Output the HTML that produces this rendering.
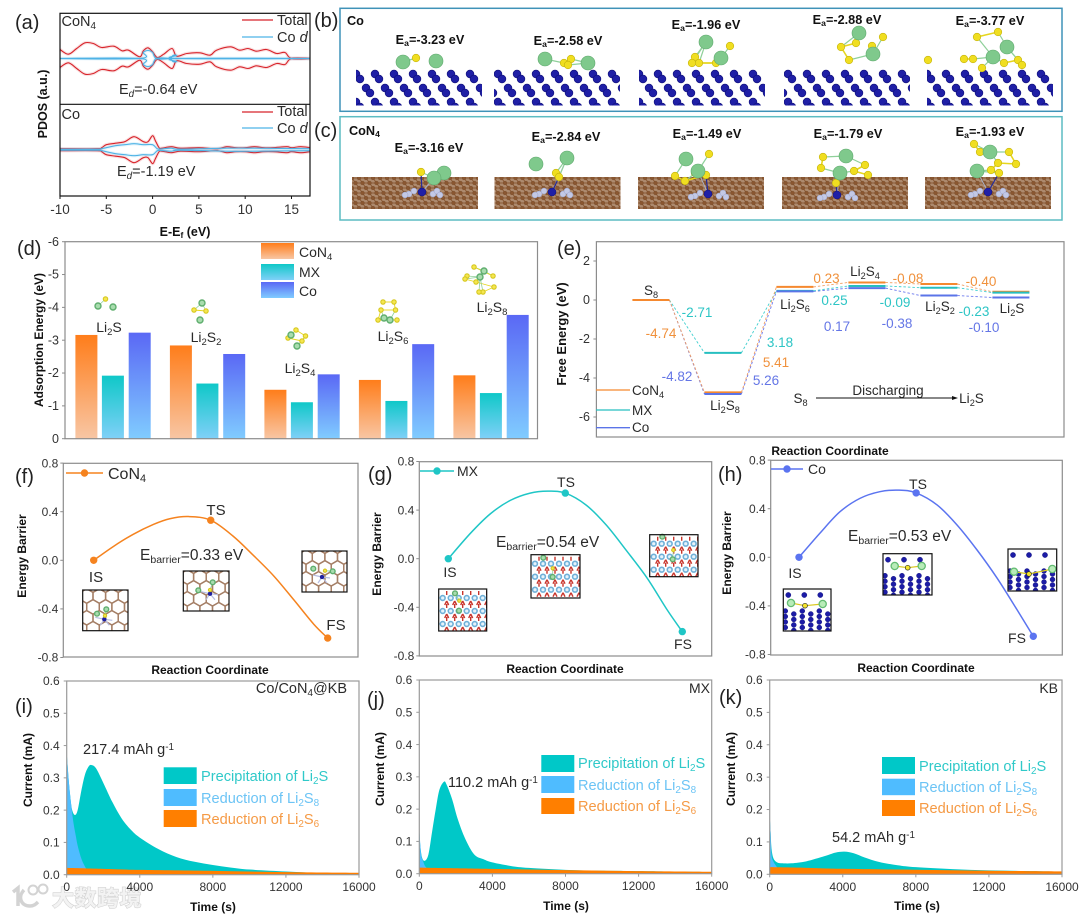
<!DOCTYPE html>
<html lang="en">
<head>
<meta charset="utf-8">
<title>Co/CoN4 polysulfide conversion figure</title>
<style>
html,body{margin:0;padding:0;background:#fff;}
svg{display:block;font-family:"Liberation Sans","Noto Sans CJK SC",sans-serif;}
text{fill:#2a2a2a;}
.pl{font-size:20px;fill:#222;}
.t{font-size:13.5px;}
.a14{font-size:14.5px;}
.tick{font-size:12px;fill:#333;}
.b{font-weight:bold;font-size:12px;fill:#111;}
.ea{font-weight:bold;font-size:12.7px;fill:#111;}
.l14{font-size:14px;}
.eb{font-size:15.5px;}
.cap{font-size:14.5px;}
.s{font-size:68%;}
.org{fill:#f0913c;}.tea{fill:#2cc5c5;}.blu{fill:#6476e6;}
.lo{fill:#f59a45;font-size:14.6px;}.lb{fill:#6cc4f5;font-size:14.6px;}.lt{fill:#2fc9c9;font-size:14.6px;}
.m{text-anchor:middle;}
.e{text-anchor:end;}
</style>
</head>
<body>
<svg id="figure" width="1080" height="918" viewBox="0 0 1080 918" xmlns="http://www.w3.org/2000/svg">
<defs>
<linearGradient id="grad-org" x1="0" y1="0" x2="0" y2="1"><stop offset="0" stop-color="#ff7d1a"/><stop offset="1" stop-color="#f8c6a4"/></linearGradient>
<linearGradient id="grad-tea" x1="0" y1="0" x2="0" y2="1"><stop offset="0" stop-color="#0fc8c8"/><stop offset="1" stop-color="#80d0f8"/></linearGradient>
<linearGradient id="grad-blu" x1="0" y1="0" x2="0" y2="1"><stop offset="0" stop-color="#5a68f5"/><stop offset="1" stop-color="#80ccff"/></linearGradient>
</defs>

<!-- panel a -->
<g id="panel-a">
<g id="a-marks"></g>
<text class="pl" x="15" y="29">(a)</text>
<text class="a14" x="61.5" y="26">CoN<tspan class="s" dy="3">4</tspan></text>
<text class="a14" x="61.5" y="119">Co</text>
<text class="a14" x="277" y="25">Total</text>
<text class="a14" x="277" y="42">Co <tspan font-style="italic">d</tspan></text>
<text class="a14" x="277" y="116">Total</text>
<text class="a14" x="277" y="133">Co <tspan font-style="italic">d</tspan></text>
<text class="a14" x="119" y="94">E<tspan class="s" dy="3" font-style="italic">d</tspan><tspan dy="-3">=-0.64 eV</tspan></text>
<text class="a14" x="117" y="176">E<tspan class="s" dy="3" font-style="italic">d</tspan><tspan dy="-3">=-1.19 eV</tspan></text>
<text class="b m" style="font-size:12.5px" transform="translate(47,104) rotate(-90)">PDOS (a.u.)</text>
<text class="b m" style="font-size:12.5px" x="185" y="236">E-E<tspan class="s" dy="2">f</tspan><tspan dy="-2"> (eV)</tspan></text>
</g>

<!-- panels b, c -->
<g id="panel-b">
<rect x="340" y="8.3" width="722" height="103" fill="none" stroke="#3f92b8" stroke-width="1.5"/>
<g id="b-art"></g>
<text class="pl" x="314" y="27">(b)</text>
<text class="ea" x="347" y="25">Co</text>
<text class="ea m" x="430" y="44">E<tspan class="s" dy="2">a</tspan><tspan dy="-2">=-3.23 eV</tspan></text>
<text class="ea m" x="568" y="45">E<tspan class="s" dy="2">a</tspan><tspan dy="-2">=-2.58 eV</tspan></text>
<text class="ea m" x="706" y="29">E<tspan class="s" dy="2">a</tspan><tspan dy="-2">=-1.96 eV</tspan></text>
<text class="ea m" x="847" y="24">E<tspan class="s" dy="2">a</tspan><tspan dy="-2">=-2.88 eV</tspan></text>
<text class="ea m" x="990" y="25">E<tspan class="s" dy="2">a</tspan><tspan dy="-2">=-3.77 eV</tspan></text>
</g>
<g id="panel-c">
<rect x="340" y="116.7" width="722" height="103.3" fill="none" stroke="#5cbcc2" stroke-width="1.5"/>
<g id="c-art"></g>
<text class="pl" x="314" y="137">(c)</text>
<text class="ea" x="349" y="135">CoN<tspan class="s" dy="2">4</tspan></text>
<text class="ea m" x="429" y="152">E<tspan class="s" dy="2">a</tspan><tspan dy="-2">=-3.16 eV</tspan></text>
<text class="ea m" x="566" y="141">E<tspan class="s" dy="2">a</tspan><tspan dy="-2">=-2.84 eV</tspan></text>
<text class="ea m" x="707" y="138">E<tspan class="s" dy="2">a</tspan><tspan dy="-2">=-1.49 eV</tspan></text>
<text class="ea m" x="848" y="138">E<tspan class="s" dy="2">a</tspan><tspan dy="-2">=-1.79 eV</tspan></text>
<text class="ea m" x="990" y="136">E<tspan class="s" dy="2">a</tspan><tspan dy="-2">=-1.93 eV</tspan></text>
</g>

<!-- panel d -->
<g id="panel-d">
<g id="d-marks"></g>
<text class="pl" x="17" y="255">(d)</text>
<text class="b m" transform="translate(43,340) rotate(-90)">Adsorption Energy (eV)</text>
<rect x="261" y="243" width="33" height="16" fill="url(#grad-org)"/>
<rect x="261" y="264" width="33" height="16" fill="url(#grad-tea)"/>
<rect x="261" y="282" width="33" height="16" fill="url(#grad-blu)"/>
<text class="l14" x="299" y="257">CoN<tspan class="s" dy="3">4</tspan></text>
<text class="l14" x="299" y="277">MX</text>
<text class="l14" x="299" y="296">Co</text>
<text class="l14 m" x="109" y="332">Li<tspan class="s" dy="3">2</tspan><tspan dy="-3">S</tspan></text>
<text class="l14 m" x="206" y="342">Li<tspan class="s" dy="3">2</tspan><tspan dy="-3">S</tspan><tspan class="s" dy="3">2</tspan></text>
<text class="l14 m" x="300" y="373">Li<tspan class="s" dy="3">2</tspan><tspan dy="-3">S</tspan><tspan class="s" dy="3">4</tspan></text>
<text class="l14 m" x="393" y="341">Li<tspan class="s" dy="3">2</tspan><tspan dy="-3">S</tspan><tspan class="s" dy="3">6</tspan></text>
<text class="l14 m" x="492" y="312">Li<tspan class="s" dy="3">2</tspan><tspan dy="-3">S</tspan><tspan class="s" dy="3">8</tspan></text>
</g>

<!-- panel e -->
<g id="panel-e">
<g id="e-marks"></g>
<text class="pl" x="557" y="255">(e)</text>
<text class="b m" style="font-size:13px" transform="translate(566,334) rotate(-90)">Free Energy (eV)</text>
<text class="b m" x="830" y="455">Reaction Coordinate</text>
<line x1="596" y1="390" x2="630" y2="390" stroke="#f5892f" stroke-width="1.3"/>
<line x1="596" y1="410" x2="630" y2="410" stroke="#27bfc0" stroke-width="1.3"/>
<line x1="596" y1="427.7" x2="630" y2="427.7" stroke="#5b74e8" stroke-width="1.3"/>
<text class="t" x="632" y="395">CoN<tspan class="s" dy="3">4</tspan></text>
<text class="t" x="632" y="415">MX</text>
<text class="t" x="632" y="432">Co</text>
<text class="t m" x="651" y="295">S<tspan class="s" dy="3">8</tspan></text>
<text class="t m" x="725" y="410">Li<tspan class="s" dy="3">2</tspan><tspan dy="-3">S</tspan><tspan class="s" dy="3">8</tspan></text>
<text class="t m" x="795" y="309">Li<tspan class="s" dy="3">2</tspan><tspan dy="-3">S</tspan><tspan class="s" dy="3">6</tspan></text>
<text class="t m" x="865" y="276">Li<tspan class="s" dy="3">2</tspan><tspan dy="-3">S</tspan><tspan class="s" dy="3">4</tspan></text>
<text class="t m" x="940" y="311">Li<tspan class="s" dy="3">2</tspan><tspan dy="-3">S</tspan><tspan class="s" dy="3">2</tspan></text>
<text class="t m" x="1012" y="313">Li<tspan class="s" dy="3">2</tspan><tspan dy="-3">S</tspan></text>
<text class="t m tea" x="697" y="317">-2.71</text>
<text class="t m org" x="661" y="338">-4.74</text>
<text class="t m blu" x="677" y="381">-4.82</text>
<text class="t m tea" x="780" y="347">3.18</text>
<text class="t m org" x="776" y="367">5.41</text>
<text class="t m blu" x="766" y="385">5.26</text>
<text class="t m org" x="826.5" y="283">0.23</text>
<text class="t m tea" x="834.5" y="305">0.25</text>
<text class="t m blu" x="837" y="331">0.17</text>
<text class="t m org" x="908" y="283">-0.08</text>
<text class="t m tea" x="895" y="307">-0.09</text>
<text class="t m blu" x="897" y="328">-0.38</text>
<text class="t m org" x="981" y="286">-0.40</text>
<text class="t m tea" x="974" y="316">-0.23</text>
<text class="t m blu" x="984" y="332">-0.10</text>
<text class="t m" x="800.5" y="403">S<tspan class="s" dy="3">8</tspan></text>
<text class="t m" x="971.5" y="403">Li<tspan class="s" dy="3">2</tspan><tspan dy="-3">S</tspan></text>
<text class="t m" x="888" y="395">Discharging</text>
<line x1="816" y1="398" x2="953" y2="398" stroke="#111" stroke-width="1"/>
<polygon points="958,398 952,396 952,400" fill="#111"/>
</g>

<!-- panel f -->
<g id="panel-f">
<g id="f-marks"></g>
<text class="pl" x="15" y="483">(f)</text>
<text x="108" y="479" font-size="16">CoN<tspan class="s" dy="3">4</tspan></text>
<text font-size="15" class="m" x="96" y="582">IS</text>
<text font-size="15" class="m" x="216" y="515">TS</text>
<text font-size="15" class="m" x="336" y="630">FS</text>
<text class="eb" x="140" y="560">E<tspan class="s" dy="3">barrier</tspan><tspan dy="-3">=0.33 eV</tspan></text>
<text class="b m" transform="translate(26,556) rotate(-90)">Energy Barrier</text>
<text class="b m" x="210" y="674">Reaction Coordinate</text>
</g>

<!-- panel g -->
<g id="panel-g">
<g id="g-marks"></g>
<text class="pl" x="368" y="481">(g)</text>
<text font-size="14" x="457" y="476">MX</text>
<text font-size="14" class="m" x="450" y="577">IS</text>
<text font-size="14" class="m" x="566" y="487">TS</text>
<text font-size="14" class="m" x="683" y="649">FS</text>
<text class="eb" x="496" y="547">E<tspan class="s" dy="3">barrier</tspan><tspan dy="-3">=0.54 eV</tspan></text>
<text class="b m" transform="translate(381,554) rotate(-90)">Energy Barrier</text>
<text class="b m" x="565" y="673">Reaction Coordinate</text>
</g>

<!-- panel h -->
<g id="panel-h">
<g id="h-marks"></g>
<text class="pl" x="718" y="481">(h)</text>
<text font-size="14" x="808" y="474">Co</text>
<text font-size="14" class="m" x="795" y="578">IS</text>
<text font-size="14" class="m" x="918" y="489">TS</text>
<text font-size="14" class="m" x="1017" y="643">FS</text>
<text class="eb" x="848" y="541">E<tspan class="s" dy="3">barrier</tspan><tspan dy="-3">=0.53 eV</tspan></text>
<text class="b m" transform="translate(731,553) rotate(-90)">Energy Barrier</text>
<text class="b m" x="916" y="672">Reaction Coordinate</text>
</g>

<!-- panel i -->
<g id="panel-i">
<g id="i-marks"></g>
<text class="pl" x="15" y="713">(i)</text>
<text class="cap e" x="347" y="693">Co/CoN<tspan class="s" dy="3">4</tspan><tspan dy="-3">@KB</tspan></text>
<text class="cap" x="83" y="754">217.4 mAh g<tspan class="s" dy="-4">-1</tspan></text>
<rect x="163.7" y="767.3" width="33" height="16.7" fill="#00c8c8"/>
<rect x="163.7" y="789" width="33" height="17" fill="#4fbcff"/>
<rect x="163.7" y="810" width="33" height="17" fill="#ff7f00"/>
<text class="lt" x="201" y="781">Precipitation of Li<tspan class="s" dy="3">2</tspan><tspan dy="-3">S</tspan></text>
<text class="lb" x="201" y="803">Reduction of Li<tspan class="s" dy="3">2</tspan><tspan dy="-3">S</tspan><tspan class="s" dy="3">8</tspan></text>
<text class="lo" x="201" y="824">Reduction of Li<tspan class="s" dy="3">2</tspan><tspan dy="-3">S</tspan><tspan class="s" dy="3">6</tspan></text>
<text class="b m" transform="translate(32,770) rotate(-90)">Current (mA)</text>
<text class="b m" x="213" y="911">Time (s)</text>
</g>

<!-- panel j -->
<g id="panel-j">
<g id="j-marks"></g>
<text class="pl" x="367" y="706">(j)</text>
<text class="t e" style="font-size:14px" x="710" y="693">MX</text>
<text class="cap" x="448" y="787">110.2 mAh g<tspan class="s" dy="-4">-1</tspan></text>
<rect x="541.3" y="755" width="33" height="17" fill="#00c8c8"/>
<rect x="541.3" y="776" width="33" height="17" fill="#4fbcff"/>
<rect x="541.3" y="798" width="33" height="16" fill="#ff7f00"/>
<text class="lt" x="578" y="768">Precipitation of Li<tspan class="s" dy="3">2</tspan><tspan dy="-3">S</tspan></text>
<text class="lb" x="578" y="790">Reduction of Li<tspan class="s" dy="3">2</tspan><tspan dy="-3">S</tspan><tspan class="s" dy="3">8</tspan></text>
<text class="lo" x="578" y="811">Reduction of Li<tspan class="s" dy="3">2</tspan><tspan dy="-3">S</tspan><tspan class="s" dy="3">6</tspan></text>
<text class="b m" transform="translate(384,769) rotate(-90)">Current (mA)</text>
<text class="b m" x="566" y="910">Time (s)</text>
</g>

<!-- panel k -->
<g id="panel-k">
<g id="k-marks"></g>
<text class="pl" x="719" y="704">(k)</text>
<text class="t e" style="font-size:14px" x="1058" y="693">KB</text>
<text class="cap" x="832" y="842">54.2 mAh g<tspan class="s" dy="-4">-1</tspan></text>
<rect x="882" y="757" width="33" height="17" fill="#00c8c8"/>
<rect x="882" y="778.7" width="33" height="16.5" fill="#4fbcff"/>
<rect x="882" y="800" width="33" height="16" fill="#ff7f00"/>
<text class="lt" x="919" y="771">Precipitation of Li<tspan class="s" dy="3">2</tspan><tspan dy="-3">S</tspan></text>
<text class="lb" x="919" y="792">Reduction of Li<tspan class="s" dy="3">2</tspan><tspan dy="-3">S</tspan><tspan class="s" dy="3">8</tspan></text>
<text class="lo" x="919" y="813">Reduction of Li<tspan class="s" dy="3">2</tspan><tspan dy="-3">S</tspan><tspan class="s" dy="3">6</tspan></text>
<text class="b m" transform="translate(735,769) rotate(-90)">Current (mA)</text>
<text class="b m" x="917" y="910">Time (s)</text>
</g>

<!-- watermark -->
<g id="watermark" opacity="0.9">
<path d="M13 892 L18 888 L18 906 M24 890 C18 896 20 906 30 906 C34 906 36 904 38 902" fill="none" stroke="#cfcfcf" stroke-width="3.5"/>
<circle cx="33" cy="890" r="4.5" fill="#fff" stroke="#cfcfcf" stroke-width="2"/>
<circle cx="43" cy="889" r="4.5" fill="#fff" stroke="#cfcfcf" stroke-width="2"/>
<text x="52" y="906" font-size="22" font-weight="bold" letter-spacing="0.5" stroke="#cfcfcf" stroke-width="1.2" style="fill:#f2f2f2;paint-order:stroke;font-family:'Liberation Sans','Noto Sans CJK SC',sans-serif">大数跨境</text>
</g>

<!-- x tick labels and y tick labels are appended here -->
<g id="tick-layer"></g>
</svg>

<script>
/* ---------- panel a data ---------- */
const topTotalEnergy = [-10,-9.1,-8.2,-7.3,-6.4,-5.5,-4.2,-3.3,-2.6,-1.4,-1,-0.5,0,0.5,1.2,2.1,2.6,3.7,5.1,6.2,6.9,8.4,9.4,10.3,11.2,12.3,13.4,14.3,15,17];
const topTotalDos = [9,4.3,10,15.7,15,11,12.3,7.7,8.3,1.7,7.7,10.7,6.7,1,4.3,10,2.3,5,5.7,3.3,8.3,11.7,8.3,10,7.3,9,5,6,0,0];
const topCoDEnergy = [-10,-1.4,-1,-0.5,0,0.4,1.8,2.2,2.6,2.9,17];
const topCoDDos = [0,0,6,8,6,0,0,3,3,0,0];
const botTotalEnergy = [-10,-6,-5.5,-5,-4,-3,-2,-1,-0.5,0,0.3,0.7,1,2,3,5,7,8,9,10,11,12,13,14.5,15,16,17];
const botTotalDos = [1,1,2,5,6.5,8,13,8,8,14,9,2,1.5,3,1.5,2,1,3,2,2,3,2,2,3,2,3,2];
const botCoDEnergy = [-10,-6,-5.5,-4,-3,-2,-1,0,0.5,1,2,3,8,11,17];
const botCoDDos = [0.5,0.5,1,4,5,6,5,5,1,0.8,1.5,0.5,1.5,1.5,1];
const pdosTicks = [-10,-5,0,5,10,15];

/* ---------- panel d data ---------- */
const species = ['Li2S','Li2S2','Li2S4','Li2S6','Li2S8'];
const adsorptionCoN4 = [3.16,2.84,1.49,1.79,1.93];
const adsorptionMX = [1.92,1.68,1.11,1.15,1.39];
const adsorptionCo = [3.23,2.58,1.96,2.88,3.77];
const adsorptionTicks = [0,-1,-2,-3,-4,-5,-6];

/* ---------- panel e data ---------- */
const freeEnergySteps = ['S8','Li2S8','Li2S6','Li2S4','Li2S2','Li2S'];
const freeCoN4 = [0,-4.74,0.67,0.90,0.82,0.42];
const freeMX = [0,-2.71,0.47,0.72,0.63,0.38];
const freeCo = [0,-4.82,0.44,0.61,0.23,0.13];
const freeTicks = [2,0,-2,-4,-6];

/* ---------- panels f, g, h data ---------- */
const barrierStates = [0,1,2];
const barrierTicks = [0.8,0.4,0,-0.4,-0.8];
const stateEnergyCoN4 = [0,0.33,-0.64];
const stateEnergyMX = [0,0.54,-0.6];
const stateEnergyCo = [0,0.53,-0.65];
const curveCoordCoN4 = [0,0.17,0.34,0.51,0.65,0.81,1,1.19,1.36,1.54,1.71,1.88,2];
const curveEnergyCoN4 = [0,0.115,0.215,0.295,0.342,0.36,0.33,0.2,0.045,-0.13,-0.325,-0.525,-0.64];
const curveCoordMX = [0,0.19,0.36,0.53,0.70,0.85,1,1.18,1.35,1.52,1.70,1.87,2];
const curveEnergyMX = [0,0.21,0.37,0.48,0.54,0.556,0.54,0.44,0.277,0.07,-0.16,-0.42,-0.6];
const curveCoordCo = [0,0.18,0.35,0.52,0.69,0.85,1,1.18,1.35,1.52,1.69,1.86,2];
const curveEnergyCo = [0,0.2,0.375,0.485,0.54,0.553,0.53,0.43,0.265,0.06,-0.17,-0.43,-0.65];

/* ---------- panels i, j, k data ---------- */
const currentYTicks = [0,0.1,0.2,0.3,0.4,0.5,0.6];
const currentXTicks = [0,4000,8000,12000,16000];
const iTime = [0,100,200,300,450,600,800,1000,1200,1350,1600,2000,2500,3000,3500,4000,5000,6000,7000,8000,9000,10000,12000,14000,16000];
const iPrecip = [0.38,0.30,0.24,0.2,0.185,0.2,0.26,0.31,0.335,0.34,0.33,0.285,0.225,0.175,0.14,0.115,0.08,0.055,0.04,0.03,0.022,0.016,0.01,0.005,0.003];
const iLi2S8Time = [0,100,200,300,400,500,600,800,1000,1150];
const iLi2S8 = [0.38,0.3,0.24,0.19,0.15,0.12,0.09,0.05,0.025,0.012];
const iLi2S6Time = [0,2000,4000,8000,12000,16000];
const iLi2S6 = [0.021,0.018,0.015,0.012,0.008,0.006];

const jTime = [0,50,150,300,500,700,900,1100,1350,1500,1800,2100,2500,3000,3500,4000,5000,6000,8000,10000,12000,16000];
const jPrecip = [0.14,0.09,0.05,0.04,0.06,0.13,0.2,0.26,0.285,0.275,0.23,0.17,0.11,0.06,0.045,0.035,0.024,0.018,0.012,0.009,0.008,0.005];
const jLi2S8Time = [0,100,200,300,400];
const jLi2S8 = [0.14,0.06,0.04,0.025,0.018];
const jLi2S6Time = [0,2000,4000,8000,12000,16000];
const jLi2S6 = [0.019,0.017,0.015,0.011,0.008,0.006];

const kTime = [0,50,100,200,400,700,1200,2000,3000,3600,4100,4600,5200,6000,7000,8000,10000,12000,14000,16000];
const kPrecip = [0.185,0.13,0.08,0.05,0.037,0.034,0.034,0.04,0.056,0.067,0.07,0.065,0.052,0.038,0.028,0.022,0.016,0.012,0.01,0.008];
const kLi2S8Time = [0,50,100,200,300,400];
const kLi2S8 = [0.185,0.13,0.06,0.04,0.03,0.022];
const kLi2S6Time = [0,2000,4000,8000,12000,16000];
const kLi2S6 = [0.022,0.02,0.017,0.014,0.011,0.009];

/* ---------- illustration atoms (not chart data) ---------- */
const coModels = [
 {g:[[403,62],[436,61]],y:[[416,58]]},
 {g:[[545,59],[588,63]],y:[[564,63],[571,59],[568,65]]},
 {g:[[706,42],[721,58]],y:[[730,46],[695,57],[699,63],[716,63],[692,63]]},
 {g:[[859,33],[873,54]],y:[[883,37],[856,43],[841,47],[849,60],[872,46]]},
 {g:[[1007,47],[993,57]],y:[[977,37],[998,32],[964,59],[973,59],[1004,63],[1018,60],[1022,65],[982,68],[928,60]]}
];
const coSlabX = [356,494,639,784,927];
const con4Models = [
 {g:[[444,173],[434,178]],y:[[421,172]],co:[422,192]},
 {g:[[536,164],[567,158]],y:[[556,173],[559,177]],co:[552,192]},
 {g:[[686,159],[698,171]],y:[[709,154],[675,176],[685,181],[706,175],[695,173]],co:[708,194]},
 {g:[[846,156],[840,173]],y:[[823,157],[821,168],[865,165],[854,171],[868,175],[836,183]],co:[837,195]},
 {g:[[990,152],[977,171]],y:[[974,144],[980,152],[1009,152],[1016,164],[998,163],[991,170],[999,173]],co:[988,192]}
];
const con4SlabX = [352,494.5,638,782,925];
const isolatedModels = [
 {g:[[98,306],[113,307]],y:[[105.5,299]]},
 {g:[[202,303],[200,320]],y:[[194,310],[206,311]]},
 {g:[[291,335],[297,346]],y:[[296,330],[305.5,336],[302,341],[288,338]]},
 {g:[[384,318],[390,320]],y:[[383,302],[394,302],[395.5,310],[381,310],[378,320],[397,320]]},
 {g:[[484,271],[480,277]],y:[[474,267],[493,276],[467,276],[465,279],[476,282],[494,287],[483,292],[479,292]]}
];

/* ---------- helpers ---------- */
const NS = 'http://www.w3.org/2000/svg';
function add(parent, tag, attrs) {
  const n = document.createElementNS(NS, tag);
  for (const k in attrs) n.setAttribute(k, attrs[k]);
  parent.appendChild(n);
  return n;
}
function linear(d0, d1, r0, r1) { return v => r0 + (v - d0) * (r1 - r0) / (d1 - d0); }
function pointsOf(xs, ys, sx, sy) { return xs.map((x, i) => [sx(x), sy(ys[i])]); }
function polyPath(pts) { return pts.map((p, i) => (i ? 'L' : 'M') + p[0].toFixed(2) + ' ' + p[1].toFixed(2)).join(' '); }
function smoothPath(pts) {
  let d = 'M' + pts[0][0].toFixed(2) + ' ' + pts[0][1].toFixed(2);
  for (let i = 0; i < pts.length - 1; i++) {
    const p0 = pts[i - 1] || pts[i], p1 = pts[i], p2 = pts[i + 1], p3 = pts[i + 2] || p2;
    d += ' C' + (p1[0] + (p2[0] - p0[0]) / 6).toFixed(2) + ' ' + (p1[1] + (p2[1] - p0[1]) / 6).toFixed(2) + ' ' +
      (p2[0] - (p3[0] - p1[0]) / 6).toFixed(2) + ' ' + (p2[1] - (p3[1] - p1[1]) / 6).toFixed(2) + ' ' +
      p2[0].toFixed(2) + ' ' + p2[1].toFixed(2);
  }
  return d;
}
const ticksLayer = document.getElementById('tick-layer');
function frame(parent, x, y, w, h, color) {
  const r = add(parent, 'rect', {x: x, y: y, width: w, height: h, fill: 'none', stroke: color, 'stroke-width': 1.2});
  
  
  return r;
}
function yTicks(values, scale, xRight, fmt, size, frameX, color) {
  values.forEach(v => {
    const t = add(ticksLayer, 'text', {x: xRight, y: scale(v) + 4.2, class: 'tick e'});
    t.style.fontSize = size + 'px';
    t.textContent = fmt(v);
    
    
    const m = add(ticksLayer, 'line', {x1: frameX - 3, x2: frameX, y1: scale(v), y2: scale(v), stroke: color, 'stroke-width': 1});
    
    
  });
}
function xTicks(values, scale, yBase, size, frameBottom, color) {
  values.forEach(v => {
    const t = add(ticksLayer, 'text', {x: scale(v), y: yBase, class: 'tick m'});
    t.style.fontSize = size + 'px';
    t.textContent = String(v);
    
    
    const m = add(ticksLayer, 'line', {x1: scale(v), x2: scale(v), y1: frameBottom, y2: frameBottom + 3, stroke: color, 'stroke-width': 1});
    
    
  });
}
function atom(parent, x, y, r, fill, stroke, sw) {
  const c = add(parent, 'circle', {cx: x, cy: y, r: r, fill: fill, stroke: stroke, 'stroke-width': sw});
  
  
  return c;
}
function bond(parent, a, b, color, w) {
  const l = add(parent, 'line', {x1: a[0], y1: a[1], x2: b[0], y2: b[1], stroke: color, 'stroke-width': w});
  
  
  return l;
}
function dist(a, b) { return Math.hypot(a[0] - b[0], a[1] - b[1]); }
function molecule(parent, model, rg, ry, ring) {
  const nearest = p => model.g.reduce((m, g) => dist(g, p) < dist(m, p) ? g : m, model.g[0]);
  model.y.forEach((p, i) => {
    const n = nearest(p);
    if (dist(n, p) < (ring ? 16 : 28)) bond(parent, p, n, '#8fd09a', ring ? 0.8 : 1.2);
    if (i) {
      const q = model.y[i - 1];
      if (dist(q, p) < (ring ? 22 : 26)) bond(parent, p, q, '#e6d61e', ring ? 0.9 : 1.6);
    }
  });
  model.y.forEach(p => atom(parent, p[0], p[1], ry, ring ? '#f5e650' : '#f0de20', ring ? '#d6c820' : '#c4b30c', ring ? 1.1 : 0.6));
  model.g.forEach(p => atom(parent, p[0], p[1], rg, ring ? '#a8dcae' : '#7fc98c', ring ? '#5fae6e' : '#5ea86c', ring ? 1.4 : 0.6));
}
let clipCounter = 0;
function clipped(parent, x, y, w, h, name) {
  const id = 'clip-' + (clipCounter++);
  const cp = add(parent, 'clipPath', {id: id});
  add(cp, 'rect', {x: x, y: y, width: w, height: h});
  const g = add(parent, 'g', {'clip-path': 'url(#' + id + ')'});
  
  
  return g;
}

/* ---------- panel a ---------- */
(function () {
  const g = document.getElementById('a-marks');
  const sx = linear(-10, 17, 60, 310);
  const plot = (E, D, cy, color, w) => {
    [1, -1].forEach(sign => {
      const pts = E.map((e, i) => [sx(e), cy - sign * D[i]]);
      const halo = add(g, 'path', {d: smoothPath(pts), fill: 'none', stroke: color, 'stroke-width': w + 2.2, opacity: 0.14});
      
      
      const p = add(g, 'path', {d: smoothPath(pts), fill: 'none', stroke: color, 'stroke-width': w});
      
      
    });
  };
  plot(topTotalEnergy, topTotalDos, 58.5, '#d8232a', 1.1);
  plot(topCoDEnergy, topCoDDos, 58.5, '#4eb3e6', 1.1);
  plot(botTotalEnergy, botTotalDos, 149.7, '#d8232a', 1.1);
  plot(botCoDEnergy, botCoDDos, 149.7, '#4eb3e6', 1.1);
  frame(g, 60, 13.3, 250, 182.7, '#111');
  const div = add(g, 'line', {x1: 60, x2: 310, y1: 104.3, y2: 104.3, stroke: '#111', 'stroke-width': 1.2});
  
  
  [[20, '#d8232a'], [37, '#4eb3e6'], [112, '#d8232a'], [128, '#4eb3e6']].forEach(r => {
    const l = add(g, 'line', {x1: 242, x2: 273, y1: r[0], y2: r[0], stroke: r[1], 'stroke-width': 1.2});
    
    
  });
  xTicks(pdosTicks, sx, 214, 13.5, 196, '#111');
})();

/* ---------- panels b, c art ---------- */
(function () {
  const gb = document.getElementById('b-art');
  coSlabX.forEach((x0, m) => {
    const s = clipped(gb, x0, 66, 126, 39.5, 'co-surface-' + m);
    for (let j = 0; j < 3; j++) {
      for (let i = -1; i < 8; i++) {
        const x = x0 + i * 19 + (j % 2) * 10 + (m % 2) * 4;
        const y = 74 + j * 14;
        [[0,0],[4,5]].forEach(o => atom(s, x + o[0], y + o[1], 3.9, '#1f1fa6', '#10107a', 0.6));
      }
    }
    molecule(gb, coModels[m], 7, 3.8, false);
  });
  const gc = document.getElementById('c-art');
  con4SlabX.forEach((x0, m) => {
    const s = clipped(gc, x0, 177, 126, 32, 'carbon-slab-' + m);
    const bg = add(s, 'rect', {x: x0, y: 177, width: 126, height: 32, fill: '#ad8a6e'});
    
    
    for (let j = 0; j < 7; j++) {
      for (let i = -1; i < 19; i++) {
        const x = x0 + i * 7 + (j % 2) * 3.5;
        const y = 178 + j * 5;
        bond(s, [x, y], [x + 3.5, y + 5], '#8b5a35', 1);
        bond(s, [x, y], [x + 7, y], '#8b5a35', 1);
        atom(s, x, y, 1.9, '#8a5731', '#6f4425', 0.3);
      }
    }
    const model = con4Models[m];
    [[-13,2],[-8,-1],[11,2],[15,-1],[-17,3],[18,3]].forEach(o => atom(gc, model.co[0] + o[0], model.co[1] + o[1], 3, '#c3c9e6', '#9aa3cc', 0.5));
    bond(gc, model.co, model.g[1], '#a9b0c4', 1);
    const closestY = model.y.reduce((a, b) => dist(a, model.co) < dist(b, model.co) ? a : b);
    bond(gc, model.co, closestY, '#222a9c', 1.2);
    atom(gc, model.co[0], model.co[1], 4, '#1f1fa6', '#10107a', 0.5);
    molecule(gc, model, 7, 3.8, false);
  });
})();

/* ---------- panel d ---------- */
(function () {
  const g = document.getElementById('d-marks');
  const sy = linear(0, -6, 438.7, 241.7);
  const groupX = i => 75.4 + i * 94.5;
  const series = [
    {v: adsorptionCoN4, off: 0, fill: 'url(#grad-org)', name: 'bar-con4-'},
    {v: adsorptionMX, off: 26.5, fill: 'url(#grad-tea)', name: 'bar-mx-'},
    {v: adsorptionCo, off: 53.3, fill: 'url(#grad-blu)', name: 'bar-co-'}
  ];
  series.forEach(s => {
    s.v.forEach((val, i) => {
      const y = sy(-val);
      const r = add(g, 'rect', {x: groupX(i) + s.off, y: y, width: 22, height: sy(0) - y, fill: s.fill});
      
      
    });
  });
  frame(g, 65, 241.7, 472.5, 197, '#8c8c8c');
  isolatedModels.forEach(m => molecule(g, m, 3, 2.2, true));
  yTicks(adsorptionTicks, sy, 59, v => String(v), 12.5, 65, '#8c8c8c');
})();

/* ---------- panel e ---------- */
(function () {
  const g = document.getElementById('e-marks');
  const sy = linear(0, 2, 300, 261);
  const levelX = i => 632.4 + i * 72;
  const W = 37;
  const series = [
    {v: freeCo, c: '#5b74e8', dash: '#6b79ee', name: 'co'},
    {v: freeMX, c: '#27bfc0', dash: '#3fcfcf', name: 'mx'},
    {v: freeCoN4, c: '#f5892f', dash: '#f2a066', name: 'con4'}
  ];
  series.forEach(s => {
    s.v.forEach((val, i) => {
      if (i < s.v.length - 1) {
        const c = add(g, 'line', {x1: levelX(i) + W, y1: sy(val), x2: levelX(i + 1), y2: sy(s.v[i + 1]), stroke: s.dash, 'stroke-width': 0.9, 'stroke-dasharray': '2.5 2'});
        
        
      }
    });
  });
  [series[2], series[1], series[0]].forEach(s => {
    s.v.forEach((val, i) => {
      if (i === 0 && s.name !== 'con4') return;
      const l = add(g, 'line', {x1: levelX(i), y1: sy(val), x2: levelX(i) + W, y2: sy(val), stroke: s.c, 'stroke-width': 2});
      
      
    });
  });
  frame(g, 596.4, 241.7, 467.6, 195.3, '#8c8c8c');
  yTicks(freeTicks, sy, 590, v => String(v), 12.5, 596.4, '#8c8c8c');
})();

/* ---------- panels f, g, h ---------- */
function barrierPanel(opts) {
  const g = document.getElementById(opts.id);
  const sx = linear(0, 2, opts.x0, opts.x2);
  const sy = linear(0, 0.4, opts.zeroY, opts.zeroY - 48.6);
  frame(g, opts.fx, opts.fy, opts.fw, opts.fh, '#8c8c8c');
  const curve = add(g, 'path', {d: smoothPath(pointsOf(opts.cx, opts.cy, sx, sy)), fill: 'none', stroke: opts.color, 'stroke-width': 1.5});
  
  
  barrierStates.forEach((s, i) => {
    const c = add(g, 'circle', {cx: sx(s), cy: sy(opts.states[i]), r: 3.7, fill: opts.color});
    
    
  });
  const ll = add(g, 'line', {x1: opts.lx0, x2: opts.lx1, y1: opts.ly, y2: opts.ly, stroke: opts.color, 'stroke-width': 1.5});
  
  
  const lm = add(g, 'circle', {cx: (opts.lx0 + opts.lx1) / 2, cy: opts.ly, r: 3.7, fill: opts.color});
  
  
  yTicks(barrierTicks, sy, opts.fx - 5, v => v.toFixed(1), 12, opts.fx, '#8c8c8c');
  return g;
}
function insetBox(parent, x, y, w, h) {
  const r = add(parent, 'rect', {x: x, y: y, width: w, height: h, fill: 'none', stroke: '#111', 'stroke-width': 1.2});
  
  
}
function hexInset(parent, x, y, w, h, model, co) {
  const bg = add(parent, 'rect', {x: x, y: y, width: w, height: h, fill: '#fff'});
  
  
  const s = clipped(parent, x, y, w, h, 'graphene-lattice');
  for (let j = -1; j < 5; j++) {
    for (let i = -1; i < 5; i++) {
      const cx = x + i * 12.6 + (j % 2 ? 6.3 : 0) + 4, cy = y + j * 10.9 + 6;
      const r = 7.3;
      const pts = [0, 1, 2, 3, 4, 5].map(k => [cx + r * Math.cos(Math.PI / 6 + k * Math.PI / 3), cy + r * Math.sin(Math.PI / 6 + k * Math.PI / 3)]);
      const p = add(s, 'path', {d: polyPath(pts) + ' Z', fill: 'none', stroke: '#a57f66', 'stroke-width': 1.4});
      
      
    }
  }
  [[-9,-2],[8,1],[-4,6],[5,6]].forEach(o => bond(parent, co, [co[0] + o[0], co[1] + o[1]], '#b6bde2', 1.2));
  atom(parent, co[0], co[1], 2, '#1f1fa6', '#10107a', 0.3);
  molecule(parent, model, 2.4, 1.6, true);
  insetBox(parent, x, y, w, h);
}
function mxInset(parent, x, y, w, h, model) {
  const bg = add(parent, 'rect', {x: x, y: y, width: w, height: h, fill: '#fff'});
  
  
  const s = clipped(parent, x, y, w, h, 'mxene-lattice');
  [0, 13, 26].forEach(dy => {
    for (let i = 0; i < 7; i++) {
      const cx = x + 4 + i * 8, cy = y + 9 + dy;
      bond(s, [cx + 4, cy + 3], [cx + 2, cy + 7], '#c8352c', 1.4);
      bond(s, [cx + 4, cy + 3], [cx + 6, cy + 7], '#c8352c', 1.4);
      bond(s, [cx + 4, cy - 7], [cx + 4, cy - 3], '#c8352c', 1.4);
      atom(s, cx, cy, 2.4, '#e6f3fb', '#6fb0d8', 1.6);
    }
  });
  molecule(parent, model, 2.4, 1.6, true);
  insetBox(parent, x, y, w, h);
}
function coInset(parent, x, y, w, h, model) {
  const bg = add(parent, 'rect', {x: x, y: y, width: w, height: h, fill: '#fff'});
  
  
  const s = clipped(parent, x, y, w, h, 'cobalt-lattice');
  for (let i = 0; i < 4; i++) atom(s, x + 5 + i * 16, y + 6, 2.6, '#1c1ca6', '#10107a', 0.4);
  for (let i = 0; i < 6; i++) {
    for (let j = 0; j < 4; j++) {
      atom(s, x + 2 + i * 8.5, y + 22 + j * 5.5 + (i % 2) * 3, 2.5, '#1c1ca6', '#10107a', 0.4);
    }
  }
  model.y.forEach(p => { model.g.forEach(q => bond(parent, p, q, '#d9c91e', 1.2)); });
  model.y.forEach(p => atom(parent, p[0], p[1], 2.4, '#f5e52a', '#2a2a2a', 0.7));
  model.g.forEach(p => atom(parent, p[0], p[1], 3.6, '#b8ecb8', '#63bb72', 1.3));
  insetBox(parent, x, y, w, h);
}
(function () {
  const f = barrierPanel({id: 'f-marks', x0: 93.7, x2: 327.7, zeroY: 560.3, fx: 63.3, fy: 463.3, fw: 294.7, fh: 193.7, color: '#f5831f', cx: curveCoordCoN4, cy: curveEnergyCoN4, states: stateEnergyCoN4, lx0: 66, lx1: 103, ly: 473});
  hexInset(f, 82.7, 590, 45.3, 40.7, {g: [[97,613.7],[106.3,609.3]], y: [[105,615.7]]}, [104.3,619.3]);
  hexInset(f, 183.3, 571, 45.7, 40, {g: [[198.3,590.3],[212.7,582.3]], y: [[210,590]]}, [210,593.7]);
  hexInset(f, 302, 551, 45, 41, {g: [[313.3,568.7],[332.7,571.3]], y: [[325,570.7]]}, [322,577]);
  const m = barrierPanel({id: 'g-marks', x0: 448.3, x2: 682.3, zeroY: 558.7, fx: 419.3, fy: 461.7, fw: 292.4, fh: 194.3, color: '#1fc6c6', cx: curveCoordMX, cy: curveEnergyMX, states: stateEnergyMX, lx0: 420, lx1: 454, ly: 471});
  mxInset(m, 438.7, 589, 48, 42, {g: [[455,593.3],[459,610.7]], y: [[459.3,600.7]]});
  mxInset(m, 531, 554.7, 49, 43.3, {g: [[543.3,557.7],[552.7,577]], y: [[552.7,568.3]]});
  mxInset(m, 649.7, 534.7, 48.3, 42, {g: [[662.3,536.7],[672.7,559.3]], y: [[673.3,550]]});
  const h = barrierPanel({id: 'h-marks', x0: 799, x2: 1033.3, zeroY: 557.3, fx: 770.7, fy: 460.3, fw: 291.6, fh: 194.7, color: '#5b74f0', cx: curveCoordCo, cy: curveEnergyCo, states: stateEnergyCo, lx0: 771, lx1: 803, ly: 469});
  coInset(h, 783.3, 589, 47.7, 42, {g: [[791,603],[822.7,604]], y: [[805,605.7]]});
  coInset(h, 883, 553.7, 49, 41.3, {g: [[894.7,566],[921.7,566]], y: [[907.7,567.7]]});
  coInset(h, 1008, 549, 48.7, 42, {g: [[1014,571.7],[1052.3,569]], y: [[1029,574]]});
})();

/* ---------- panels i, j, k ---------- */
function currentPanel(opts) {
  const g = document.getElementById(opts.id);
  const sx = linear(0, 16000, opts.x, opts.x + opts.w);
  const sy = linear(0, 0.6, opts.y + opts.h, opts.y);
  const base = sy(0);
  const area = (xs, ys, color, name) => {
    const pts = pointsOf(xs, ys, sx, sy);
    const d = smoothPath(pts) + ' L' + pts[pts.length - 1][0].toFixed(2) + ' ' + base + ' L' + pts[0][0].toFixed(2) + ' ' + base + ' Z';
    const p = add(g, 'path', {d: d, fill: color});
    
    
  };
  area(opts.t, opts.p, '#00c8c8', 'area-precipitation-li2s');
  area(opts.t8, opts.v8, '#4fbcff', 'area-reduction-li2s8');
  area(opts.t6, opts.v6, '#ff7f00', 'area-reduction-li2s6');
  frame(g, opts.x, opts.y, opts.w, opts.h, '#9a9a9a');
  yTicks(currentYTicks, sy, opts.x - 7, v => v.toFixed(1), 12, opts.x, '#9a9a9a');
  xTicks(currentXTicks, sx, opts.y + opts.h + 16.5, 12, opts.y + opts.h, '#9a9a9a');
}
currentPanel({id: 'i-marks', x: 66.7, y: 681, w: 292.3, h: 193.7, t: iTime, p: iPrecip, t8: iLi2S8Time, v8: iLi2S8, t6: iLi2S6Time, v6: iLi2S6});
currentPanel({id: 'j-marks', x: 419.3, y: 680, w: 292.4, h: 193.7, t: jTime, p: jPrecip, t8: jLi2S8Time, v8: jLi2S8, t6: jLi2S6Time, v6: jLi2S6});
currentPanel({id: 'k-marks', x: 769.7, y: 680, w: 292.3, h: 194.3, t: kTime, p: kPrecip, t8: kLi2S8Time, v8: kLi2S8, t6: kLi2S6Time, v6: kLi2S6});
</script>
</body>
</html>
